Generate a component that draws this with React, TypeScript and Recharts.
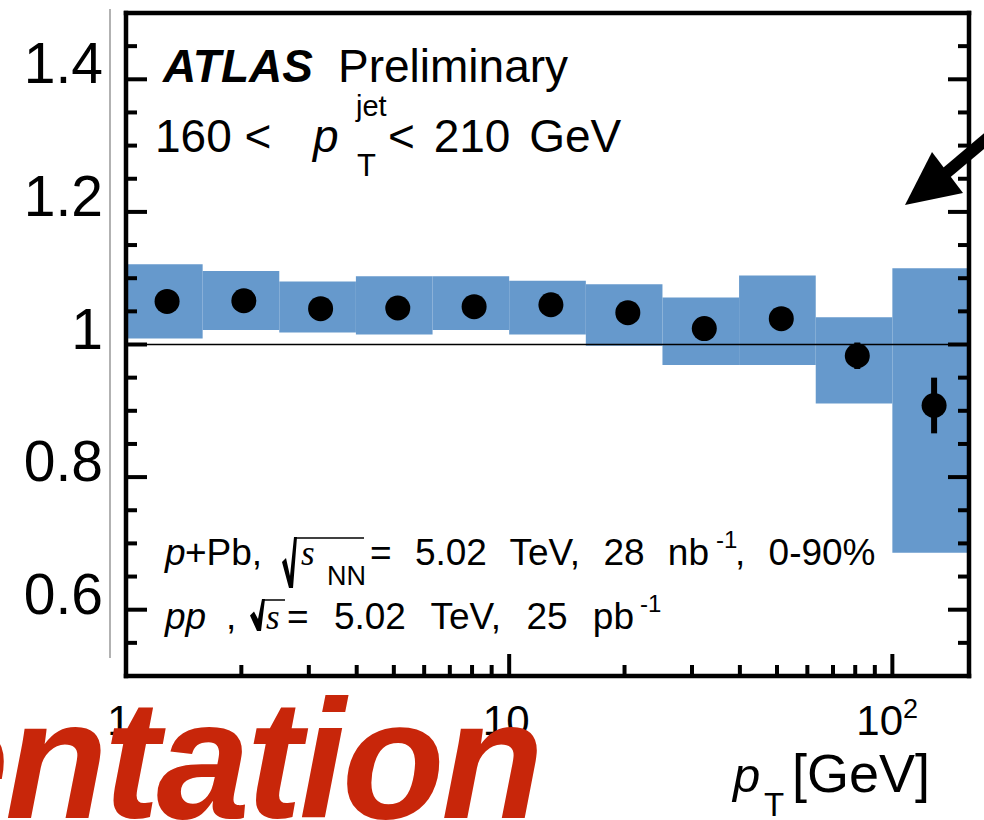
import React from 'react';
import { ComposedChart, XAxis, YAxis, Scatter, ErrorBar, ReferenceArea, ReferenceLine } from 'recharts';

// ---- data ----
const binEdges = [1, 1.585, 2.512, 3.981, 6.31, 10, 15.85, 25.12, 39.81, 63.1, 100, 158.49];
const sysHigh = [1.121, 1.111, 1.095, 1.103, 1.103, 1.096, 1.091, 1.071, 1.104, 1.041, 1.115];
const sysLow = [1.009, 1.022, 1.018, 1.015, 1.022, 1.015, 0.998, 0.969, 0.969, 0.911, 0.686];
const pointX = [1.28, 2.03, 3.22, 5.12, 8.1, 12.85, 20.4, 32.3, 51.3, 81, 128.5];
const pointY = [1.065, 1.066, 1.054, 1.055, 1.057, 1.06, 1.048, 1.024, 1.039, 0.983, 0.908];
const statErr = [0.008, 0.008, 0.008, 0.008, 0.009, 0.01, 0.012, 0.015, 0.015, 0.02, 0.042];

const xTicks = [1, 2, 3, 4, 5, 6, 7, 8, 9, 10, 20, 30, 40, 50, 60, 70, 80, 90, 100];
const xMajor = [1, 10, 100];
const xTickLabels = ['1', '10', '10|2'];
const yTicks = [0.55, 0.6, 0.65, 0.7, 0.75, 0.8, 0.85, 0.9, 0.95, 1, 1.05, 1.1, 1.15, 1.2, 1.25, 1.3, 1.35, 1.4, 1.45];
const yMajor = [0.6, 0.8, 1, 1.2, 1.4];
const yTickLabels = ['0.6', '0.8', '1', '1.2', '1.4'];

const X_DOMAIN = [binEdges[0], binEdges[binEdges.length - 1]];
const Y_DOMAIN = [0.5, 1.5];

const points = pointX.map((x, i) => ({ x, y: pointY[i], err: statErr[i] }));
const bins = sysHigh.map((h, i) => ({ x1: binEdges[i], x2: binEdges[i + 1], y1: sysLow[i], y2: h }));

const FONT = 'Liberation Sans, Arial, Helvetica, sans-serif';
const SERIF = 'Liberation Serif, Times New Roman, serif';
const BLUE = '#6699cc';
const RED = '#c8260a';
const TW = 4;

const majorIndex = (arr: number[], v: number) => arr.findIndex((m) => Math.abs(m - v) < 1e-9);

const BottomTick = (props: any) => {
  const { x, payload } = props;
  const y = 676;
  const i = majorIndex(xMajor, payload.value);
  const len = i >= 0 ? 22 : 11;
  let label: any = null;
  if (i >= 0) {
    const t = xTickLabels[i];
    if (t.includes('|')) {
      const [b, e] = t.split('|');
      label = (
        <text x={x - 36} y={y + 59} fontSize={42} fontFamily={FONT} fill="#000">
          {b}
          <tspan dy={-17} fontSize={27}>{e}</tspan>
        </text>
      );
    } else {
      label = (
        <text x={x - (t === '1' ? 7 : 3)} y={y + 59} fontSize={42} fontFamily={FONT} fill="#000" textAnchor="middle">
          {t}
        </text>
      );
    }
  }
  return (
    <g>
      <line x1={x} y1={y} x2={x} y2={y - len} stroke="#000" strokeWidth={TW} />
      {label}
    </g>
  );
};

const TopTick = (props: any) => {
  const { x, payload } = props;
  const y = 13;
  const len = majorIndex(xMajor, payload.value) >= 0 ? 23 : 12;
  return <line x1={x} y1={y} x2={x} y2={y + len} stroke="#000" strokeWidth={TW} />;
};

const LeftTick = (props: any) => {
  const { y, payload } = props;
  const x = 126;
  const i = majorIndex(yMajor, payload.value);
  const len = i >= 0 ? 21 : 11;
  return (
    <g>
      <line x1={x} y1={y} x2={x + len} y2={y} stroke="#000" strokeWidth={TW} />
      {i >= 0 && (
        <text x={103} y={y + 4} fontSize={57} fontFamily={FONT} fill="#000" textAnchor="end">
          {yTickLabels[i]}
        </text>
      )}
    </g>
  );
};

const RightTick = (props: any) => {
  const { y, payload } = props;
  const x = 969;
  const len = majorIndex(yMajor, payload.value) >= 0 ? 21 : 11;
  return <line x1={x} y1={y} x2={x - len} y2={y} stroke="#000" strokeWidth={TW} />;
};

const Dot = (props: any) => <circle cx={props.cx} cy={props.cy} r={12.5} fill="#000" />;

const Sqrt = ({ x, top, bot }: { x: number; top: number; bot: number }) => {
  const ym = top + 0.45 * (bot - top);
  const pts = [
    [x, ym + 2],
    [x + 4, ym - 2],
    [x + 8, bot - 12],
    [x + 12, top],
    [x + 15, top],
    [x + 11, bot],
    [x + 7, bot],
  ]
    .map((p) => p.join(','))
    .join(' ');
  return <polygon points={pts} fill="#000" />;
};

const axisLine = { stroke: '#000', strokeWidth: 4.5, strokeLinecap: 'square' as const };

export default function App() {
  return (
    <div style={{ position: 'fixed', left: 0, top: 0, width: 984, height: 820, background: '#fff', overflow: 'hidden' }}>
      <ComposedChart width={984} height={820} margin={{ top: 12, right: 14, bottom: 143, left: 125 }}>
        <XAxis
          xAxisId="bottom"
          dataKey="x"
          type="number"
          scale="log"
          domain={X_DOMAIN}
          allowDataOverflow
          ticks={xTicks}
          interval={0}
          height={1}
          tickSize={0}
          tickMargin={0}
          tickLine={false}
          axisLine={axisLine}
          tick={<BottomTick />}
        />
        <XAxis
          xAxisId="top"
          orientation="top"
          type="number"
          scale="log"
          domain={X_DOMAIN}
          allowDataOverflow
          ticks={xTicks}
          interval={0}
          height={1}
          tickSize={0}
          tickMargin={0}
          tickLine={false}
          axisLine={axisLine}
          tick={<TopTick />}
        />
        <YAxis
          yAxisId="left"
          dataKey="y"
          type="number"
          domain={Y_DOMAIN}
          allowDataOverflow
          ticks={yTicks}
          interval={0}
          width={1}
          tickSize={0}
          tickMargin={0}
          tickLine={false}
          axisLine={axisLine}
          tick={<LeftTick />}
        />
        <YAxis
          yAxisId="right"
          orientation="right"
          type="number"
          domain={Y_DOMAIN}
          allowDataOverflow
          ticks={yTicks}
          interval={0}
          width={1}
          tickSize={0}
          tickMargin={0}
          tickLine={false}
          axisLine={axisLine}
          tick={<RightTick />}
        />
        {bins.map((b, i) => (
          <ReferenceArea
            key={i}
            xAxisId="bottom"
            yAxisId="left"
            x1={b.x1}
            x2={b.x2}
            y1={b.y1}
            y2={b.y2}
            fill={BLUE}
            fillOpacity={1}
            stroke="none"
            ifOverflow="hidden"
          />
        ))}
        <ReferenceLine xAxisId="bottom" yAxisId="left" y={1} stroke="#000" strokeWidth={1.3} />
        <Scatter xAxisId="bottom" yAxisId="left" data={points} shape={Dot} isAnimationActive={false}>
          <ErrorBar dataKey="err" direction="y" width={0} stroke="#000" strokeWidth={6} />
        </Scatter>
      </ComposedChart>

      <svg width={984} height={820} style={{ position: 'absolute', left: 0, top: 0, pointerEvents: 'none' }}>
        <line x1={110} y1={9} x2={110} y2={658} stroke="#999" strokeWidth={1.5} />

        <text x={163} y={82} fontSize={46} fontFamily={FONT} fontWeight="bold" fontStyle="italic" fill="#000">
          ATLAS
        </text>
        <text x={338} y={82} fontSize={46} fontFamily={FONT} fill="#000">
          Preliminary
        </text>

        <text x={155} y={152} fontSize={46} fontFamily={FONT} fill="#000">
          160 &lt;
        </text>
        <text x={313} y={152} fontSize={46} fontFamily={FONT} fontStyle="italic" fill="#000">
          p
        </text>
        <text x={356} y={116} fontSize={29} fontFamily={FONT} fill="#000">
          jet
        </text>
        <text x={357} y={176} fontSize={31} fontFamily={FONT} fill="#000">
          T
        </text>
        <text x={388} y={152} fontSize={46} fontFamily={FONT} fill="#000" style={{ wordSpacing: 6 }}>
          &lt; 210 GeV
        </text>

        {/* p+Pb line */}
        <text x={165} y={565} fontSize={37} fontFamily={FONT} fontStyle="italic" fill="#000">
          p
        </text>
        <text x={185} y={565} fontSize={37} fontFamily={FONT} fill="#000">
          +Pb,
        </text>
        <Sqrt x={282} top={537} bot={588} />
        <line x1={296} y1={538} x2={364} y2={538} stroke="#000" strokeWidth={1.5} />
        <text x={301} y={565} fontSize={35} fontFamily={SERIF} fontStyle="italic" fill="#000">
          s
        </text>
        <text x={327} y={585} fontSize={27} fontFamily={FONT} fill="#000">
          NN
        </text>
        <text x={370} y={565} fontSize={37} fontFamily={FONT} fill="#000" style={{ wordSpacing: 13 }}>
          = 5.02 TeV, 28 nb
        </text>
        <text x={716} y={548} fontSize={24} fontFamily={FONT} fill="#000">
          -1
        </text>
        <text x={735} y={565} fontSize={37} fontFamily={FONT} fill="#000" style={{ wordSpacing: 13 }}>
          , 0-90%
        </text>

        {/* pp line */}
        <text x={165} y={629} fontSize={37} fontFamily={FONT} fontStyle="italic" fill="#000">
          pp
        </text>
        <text x={226} y={629} fontSize={37} fontFamily={FONT} fill="#000">
          ,
        </text>
        <Sqrt x={250} top={599} bot={631} />
        <line x1={262} y1={600} x2={285} y2={600} stroke="#000" strokeWidth={1.5} />
        <text x={266} y={629} fontSize={35} fontFamily={SERIF} fontStyle="italic" fill="#000">
          s
        </text>
        <text x={287} y={629} fontSize={37} fontFamily={FONT} fill="#000" style={{ wordSpacing: 15 }}>
          = 5.02 TeV, 25 pb
        </text>
        <text x={640} y={612} fontSize={24} fontFamily={FONT} fill="#000">
          -1
        </text>

        {/* axis title */}
        <text x={733} y={792} fontSize={49} fontFamily={FONT} fontStyle="italic" fill="#000">
          p
        </text>
        <text x={764} y={816} fontSize={33} fontFamily={FONT} fill="#000">
          T
        </text>
        <text x={792} y={792} fontSize={54} fontFamily={FONT} fill="#000">
          [GeV]
        </text>

        {/* arrow */}
        <line x1={945} y1={174} x2={1002} y2={126} stroke="#000" strokeWidth={12} />
        <polygon points="905,205 932,152 963,193" fill="#000" />

        {/* red overlay text */}
        <text
          x={-85}
          y={818}
          fontSize={168}
          fontFamily={FONT}
          fontWeight="bold"
          fontStyle="italic"
          fill={RED}
          letterSpacing={-3.5}
        >
          entation
        </text>
      </svg>
    </div>
  );
}
